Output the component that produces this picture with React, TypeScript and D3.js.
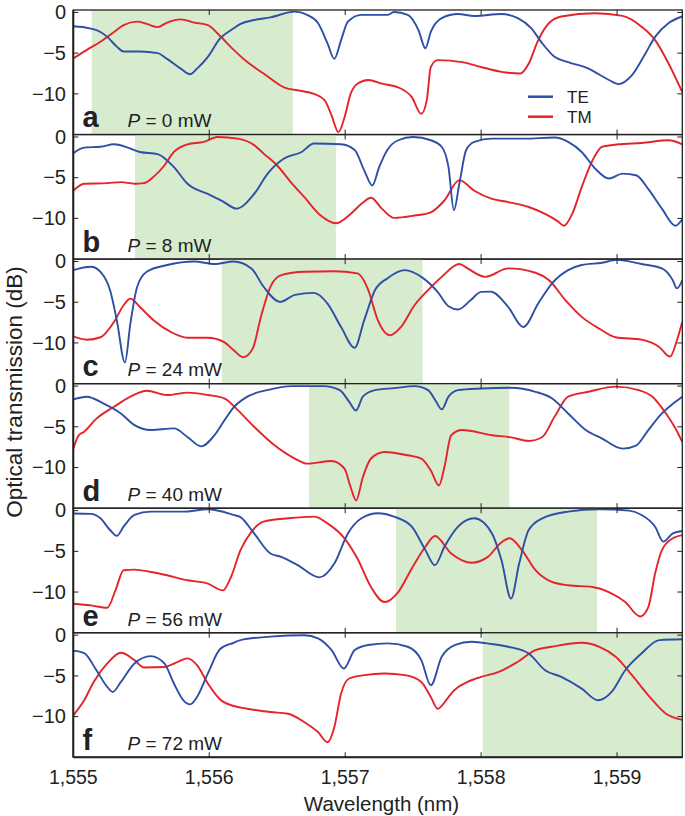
import React from "react";
import * as d3 from "d3";

type P = [number, number];

const panelLetters = ["a", "b", "c", "d", "e", "f"];
const powers = [0, 8, 24, 40, 56, 72];
const xTicks = [1555, 1556, 1557, 1558, 1559];
const xTickLabels = ["1,555", "1,556", "1,557", "1,558", "1,559"];
const yTicks = [0, -5, -10];
const yTickLabels = ["0", "\u22125", "\u221210"];
const windows: P[] = [
  [1555.135, 1556.615],
  [1555.454, 1556.932],
  [1556.092, 1557.569],
  [1556.735, 1558.207],
  [1557.373, 1558.853],
  [1558.011, 1559.5],
];

const teA: P[] = [[1555.0,-1.7],[1555.12,-1.95],[1555.2,-2.4],[1555.25,-3.0],[1555.32,-4.2],[1555.37,-4.8],[1555.49,-4.8],[1555.62,-5.0],[1555.69,-5.7],[1555.79,-6.9],[1555.86,-7.6],[1555.91,-6.9],[1555.99,-5.45],[1556.08,-3.2],[1556.18,-1.95],[1556.23,-1.4],[1556.33,-0.93],[1556.45,-0.6],[1556.63,0.1],[1556.72,-0.3],[1556.8,-1.3],[1556.87,-3.8],[1556.92,-5.7],[1556.97,-3.4],[1557.02,-1.13],[1557.12,-0.3],[1557.31,-0.3],[1557.36,0.05],[1557.46,-0.3],[1557.54,-2.2],[1557.59,-4.4],[1557.63,-2.4],[1557.71,-0.7],[1557.83,-0.2],[1557.95,-0.43],[1558.15,-0.2],[1558.27,-0.7],[1558.37,-1.95],[1558.45,-3.8],[1558.54,-5.45],[1558.64,-6.1],[1558.79,-6.9],[1558.94,-8.3],[1559.01,-8.8],[1559.11,-7.7],[1559.21,-5.0],[1559.28,-3.0],[1559.38,-1.3],[1559.48,-0.5]];
const tmA: P[] = [[1555.0,-5.65],[1555.1,-4.6],[1555.2,-3.6],[1555.3,-2.4],[1555.37,-1.55],[1555.47,-1.13],[1555.54,-1.4],[1555.62,-1.8],[1555.69,-1.25],[1555.79,-0.85],[1555.89,-1.25],[1555.99,-1.55],[1556.08,-2.9],[1556.18,-4.6],[1556.28,-6.1],[1556.4,-7.5],[1556.55,-9.2],[1556.68,-9.65],[1556.77,-10.0],[1556.85,-10.8],[1556.9,-12.65],[1556.95,-14.7],[1556.995,-12.9],[1557.04,-10.0],[1557.09,-8.75],[1557.17,-8.3],[1557.27,-8.75],[1557.39,-9.2],[1557.49,-10.4],[1557.56,-12.45],[1557.6,-10.8],[1557.63,-6.7],[1557.68,-5.86],[1557.86,-6.1],[1558.0,-6.7],[1558.15,-7.3],[1558.29,-7.5],[1558.35,-6.3],[1558.42,-3.4],[1558.5,-1.3],[1558.59,-0.5],[1558.84,-0.1],[1559.04,-0.43],[1559.18,-1.75],[1559.28,-3.4],[1559.38,-6.3],[1559.48,-9.8]];

const teB: P[] = [[1555.0,-2.0],[1555.08,-1.3],[1555.2,-1.2],[1555.3,-0.9],[1555.4,-1.3],[1555.49,-1.84],[1555.62,-2.1],[1555.74,-3.7],[1555.84,-5.74],[1555.99,-7.0],[1556.1,-7.9],[1556.2,-8.8],[1556.33,-7.0],[1556.43,-4.5],[1556.55,-2.65],[1556.68,-1.84],[1556.77,-0.8],[1556.97,-0.9],[1557.07,-1.6],[1557.14,-4.1],[1557.2,-5.95],[1557.25,-3.7],[1557.31,-1.6],[1557.39,-0.4],[1557.5,0],[1557.63,-0.4],[1557.71,-1.2],[1557.76,-3.7],[1557.8,-9.0],[1557.84,-5.74],[1557.89,-1.6],[1557.95,-0.6],[1558.08,-0.2],[1558.32,-0.2],[1558.54,-0.07],[1558.64,-0.6],[1558.74,-1.84],[1558.84,-3.9],[1558.94,-5.1],[1559.04,-4.5],[1559.14,-4.7],[1559.23,-6.4],[1559.33,-8.8],[1559.43,-10.9],[1559.48,-10.1]];
const tmB: P[] = [[1555.0,-6.6],[1555.08,-5.74],[1555.25,-5.67],[1555.35,-5.54],[1555.45,-5.74],[1555.52,-5.67],[1555.59,-4.9],[1555.67,-3.5],[1555.74,-1.84],[1555.84,-0.9],[1555.96,-0.6],[1556.06,0],[1556.21,-0.2],[1556.33,-1.0],[1556.4,-2.04],[1556.5,-3.5],[1556.6,-5.54],[1556.7,-7.4],[1556.82,-9.65],[1556.93,-10.6],[1557.04,-9.45],[1557.12,-8.2],[1557.19,-7.47],[1557.27,-8.8],[1557.36,-9.94],[1557.51,-9.65],[1557.63,-9.25],[1557.73,-7.8],[1557.84,-5.3],[1557.95,-6.6],[1558.08,-7.6],[1558.2,-8.0],[1558.35,-8.6],[1558.47,-9.45],[1558.56,-10.3],[1558.61,-10.9],[1558.67,-9.45],[1558.74,-6.16],[1558.82,-2.86],[1558.89,-1.2],[1559.01,-0.9],[1559.18,-0.73],[1559.38,-0.4],[1559.48,-0.9]];

const teC: P[] = [[1555.0,-1.05],[1555.13,-0.64],[1555.2,-1.26],[1555.27,-3.5],[1555.32,-7.2],[1555.38,-12.4],[1555.42,-7.6],[1555.47,-3.1],[1555.54,-1.26],[1555.69,-0.43],[1555.89,0],[1556.04,-0.3],[1556.18,0],[1556.31,-0.84],[1556.4,-3.1],[1556.52,-4.96],[1556.63,-4.1],[1556.77,-3.85],[1556.87,-5.16],[1556.97,-8.05],[1557.07,-10.6],[1557.14,-7.2],[1557.22,-3.5],[1557.31,-2.07],[1557.44,-1.05],[1557.56,-1.88],[1557.68,-3.73],[1557.76,-5.5],[1557.83,-5.9],[1557.92,-4.8],[1558.0,-3.73],[1558.07,-3.7],[1558.2,-5.6],[1558.31,-8.05],[1558.42,-5.16],[1558.52,-2.7],[1558.64,-1.05],[1558.74,-0.43],[1558.89,-0.15],[1559.0,0.2],[1559.18,-0.3],[1559.33,-0.84],[1559.41,-2.3],[1559.44,-3.3],[1559.48,-2.3]];
const tmC: P[] = [[1555.0,-9.2],[1555.1,-9.6],[1555.2,-9.3],[1555.3,-7.4],[1555.37,-5.37],[1555.42,-4.55],[1555.49,-5.58],[1555.59,-7.2],[1555.72,-8.67],[1555.84,-9.36],[1555.99,-9.36],[1556.11,-9.9],[1556.18,-10.9],[1556.25,-11.75],[1556.32,-10.7],[1556.38,-6.8],[1556.45,-3.1],[1556.53,-1.67],[1556.7,-1.26],[1556.92,-1.2],[1557.09,-1.46],[1557.17,-3.5],[1557.24,-7.2],[1557.33,-9.07],[1557.41,-8.05],[1557.51,-5.37],[1557.61,-3.5],[1557.71,-1.88],[1557.84,-0.3],[1557.9,-0.84],[1558.03,-1.88],[1558.2,-0.84],[1558.4,-1.38],[1558.5,-2.3],[1558.62,-4.75],[1558.74,-6.8],[1558.87,-8.25],[1558.99,-9.3],[1559.18,-9.6],[1559.31,-10.5],[1559.39,-11.67],[1559.44,-9.7],[1559.48,-7.4]];

const teD: P[] = [[1555.0,-1.63],[1555.1,-1.3],[1555.22,-2.12],[1555.35,-3.36],[1555.45,-4.8],[1555.57,-5.4],[1555.74,-5.2],[1555.84,-6.25],[1555.94,-7.4],[1556.04,-6.0],[1556.1,-4.5],[1556.18,-2.6],[1556.28,-1.3],[1556.45,-0.4],[1556.6,0],[1556.84,0],[1556.96,-0.5],[1557.03,-1.93],[1557.08,-3.0],[1557.13,-1.3],[1557.22,-0.5],[1557.36,-0.25],[1557.51,0],[1557.61,-0.5],[1557.67,-1.93],[1557.71,-2.86],[1557.76,-1.3],[1557.83,-0.5],[1558.0,-0.3],[1558.22,-0.2],[1558.4,-0.7],[1558.52,-1.5],[1558.64,-3.36],[1558.77,-5.4],[1558.89,-6.45],[1559.04,-7.68],[1559.14,-7.3],[1559.23,-5.4],[1559.33,-3.36],[1559.43,-1.93],[1559.48,-1.3]];
const tmD: P[] = [[1555.0,-7.7],[1555.04,-6.04],[1555.08,-5.6],[1555.17,-4.0],[1555.3,-2.54],[1555.42,-1.3],[1555.54,-0.57],[1555.69,-1.1],[1555.84,-0.8],[1555.99,-1.1],[1556.11,-1.5],[1556.21,-2.95],[1556.33,-5.0],[1556.48,-7.27],[1556.63,-8.9],[1556.72,-9.53],[1556.9,-9.2],[1556.995,-10.15],[1557.04,-12.4],[1557.08,-14.06],[1557.13,-11.2],[1557.19,-8.9],[1557.29,-8.1],[1557.46,-8.5],[1557.56,-8.9],[1557.63,-10.36],[1557.69,-12.2],[1557.73,-9.95],[1557.78,-6.04],[1557.86,-5.4],[1558.08,-6.04],[1558.22,-6.3],[1558.35,-6.74],[1558.45,-6.25],[1558.54,-3.78],[1558.64,-1.3],[1558.79,-0.7],[1558.99,-0.07],[1559.16,-0.5],[1559.26,-1.3],[1559.36,-3.36],[1559.43,-5.2],[1559.48,-6.86]];

const teE: P[] = [[1555.0,-0.35],[1555.13,-0.4],[1555.2,-0.94],[1555.27,-2.38],[1555.32,-3.1],[1555.37,-1.97],[1555.45,-0.53],[1555.57,-0.12],[1555.81,-0.12],[1555.99,0.17],[1556.18,-0.53],[1556.23,-0.8],[1556.33,-2.8],[1556.45,-5.26],[1556.53,-5.68],[1556.65,-6.7],[1556.81,-8.2],[1556.92,-6.5],[1557.02,-2.8],[1557.12,-0.94],[1557.24,-0.32],[1557.36,-0.74],[1557.49,-1.97],[1557.59,-4.85],[1557.66,-6.7],[1557.73,-4.44],[1557.83,-1.97],[1557.95,-0.94],[1558.08,-2.8],[1558.15,-6.1],[1558.22,-10.8],[1558.28,-6.5],[1558.35,-2.38],[1558.45,-0.94],[1558.64,-0.12],[1558.87,0.17],[1559.09,0],[1559.18,-0.53],[1559.28,-1.97],[1559.34,-3.8],[1559.41,-2.8],[1559.48,-2.5]];
const tmE: P[] = [[1555.0,-11.43],[1555.13,-11.64],[1555.25,-11.93],[1555.31,-9.8],[1555.37,-7.32],[1555.45,-7.24],[1555.57,-7.53],[1555.69,-7.94],[1555.84,-8.55],[1555.99,-8.96],[1556.1,-9.8],[1556.16,-8.15],[1556.23,-4.85],[1556.31,-2.6],[1556.4,-1.35],[1556.58,-0.94],[1556.77,-0.74],[1556.87,-1.56],[1556.995,-3.4],[1557.09,-5.88],[1557.19,-9.38],[1557.29,-11.23],[1557.39,-10.0],[1557.49,-7.1],[1557.59,-4.44],[1557.66,-3.12],[1557.78,-5.26],[1557.86,-6.1],[1557.93,-6.4],[1558.05,-5.68],[1558.14,-4.03],[1558.21,-3.4],[1558.3,-4.85],[1558.4,-7.32],[1558.52,-8.76],[1558.64,-9.17],[1558.82,-9.38],[1558.94,-10.0],[1559.06,-11.23],[1559.17,-13.0],[1559.23,-11.85],[1559.28,-7.73],[1559.33,-4.85],[1559.41,-3.4],[1559.48,-3.0]];

const teF: P[] = [[1555.0,-1.9],[1555.08,-2.2],[1555.17,-4.3],[1555.25,-6.36],[1555.29,-6.97],[1555.35,-5.74],[1555.45,-3.47],[1555.57,-2.57],[1555.67,-3.47],[1555.74,-5.94],[1555.81,-8.0],[1555.86,-8.5],[1555.91,-7.6],[1555.99,-4.7],[1556.08,-1.7],[1556.18,-0.93],[1556.23,-0.6],[1556.45,-0.18],[1556.7,0],[1556.8,-0.38],[1556.9,-1.83],[1556.99,-4.1],[1557.07,-1.83],[1557.17,-1.2],[1557.31,-1.0],[1557.46,-1.42],[1557.56,-3.06],[1557.63,-6.15],[1557.71,-2.65],[1557.81,-1.2],[1557.93,-0.8],[1558.08,-1.09],[1558.2,-1.42],[1558.35,-2.24],[1558.47,-4.3],[1558.59,-5.12],[1558.74,-6.56],[1558.86,-8.0],[1558.96,-6.97],[1559.06,-4.3],[1559.18,-2.24],[1559.31,-0.6],[1559.48,-0.5]];
const tmF: P[] = [[1555.0,-9.85],[1555.08,-8.0],[1555.15,-5.74],[1555.25,-3.47],[1555.35,-2.16],[1555.45,-3.06],[1555.52,-3.96],[1555.67,-3.9],[1555.77,-3.27],[1555.84,-2.85],[1555.91,-3.68],[1555.99,-5.94],[1556.08,-7.9],[1556.18,-8.7],[1556.28,-9.03],[1556.45,-9.44],[1556.58,-9.65],[1556.7,-10.68],[1556.8,-11.9],[1556.87,-13.15],[1556.92,-11.3],[1556.97,-7.17],[1557.03,-5.32],[1557.14,-4.91],[1557.29,-4.7],[1557.44,-4.91],[1557.56,-5.74],[1557.63,-7.6],[1557.68,-9.03],[1557.76,-7.6],[1557.8,-6.8],[1557.9,-5.74],[1558.0,-5.12],[1558.13,-4.5],[1558.25,-3.47],[1558.4,-1.83],[1558.52,-1.42],[1558.74,-0.93],[1558.87,-1.42],[1558.99,-2.65],[1559.11,-4.91],[1559.23,-7.38],[1559.36,-9.65],[1559.48,-10.4]];

const teSeries = [teA, teB, teC, teD, teE, teF];
const tmSeries = [tmA, tmB, tmC, tmD, tmE, tmF];

const W = 685;
const H = 816;
const LEFT = 73.3;
const RIGHT = 682.3;
const TOP = 10;
const PANEL_H = 124.55;
const BLUE = "#2F4EA6";
const RED = "#E5232B";
const GREEN = "#D7EBCF";
const FONT = "'Liberation Sans', Arial, Helvetica, sans-serif";

export default function App() {
  const x = d3.scaleLinear().domain([1555, 1559.48]).range([LEFT, RIGHT]);
  const bottom = TOP + PANEL_H * 6;
  return (
    <svg
      width={W}
      height={H}
      style={{ position: "absolute", left: 0, top: 0, background: "#fff" }}
      fontFamily={FONT}
    >
      <defs>
        <clipPath id="plotclip">
          <rect x={LEFT} y={TOP} width={RIGHT - LEFT} height={bottom - TOP} />
        </clipPath>
      </defs>
      {panelLetters.map((letter, i) => {
        const top = TOP + i * PANEL_H;
        const y = d3.scaleLinear().domain([-15, 0.3]).range([top + PANEL_H, top]);
        const line = d3
          .line<P>()
          .x((d) => x(d[0]))
          .y((d) => y(d[1]))
          .curve(d3.curveMonotoneX);
        const win = windows[i];
        return (
          <g key={letter}>
            <rect
              x={x(win[0])}
              y={top}
              width={Math.min(x(win[1]), RIGHT) - x(win[0])}
              height={PANEL_H}
              fill={GREEN}
            />
            <g clipPath="url(#plotclip)">
              <path d={line(tmSeries[i]) || ""} fill="none" stroke={RED} strokeWidth={1.9} strokeLinejoin="round" />
              <path d={line(teSeries[i]) || ""} fill="none" stroke={BLUE} strokeWidth={1.9} strokeLinejoin="round" />
            </g>
            <rect x={LEFT} y={top} width={RIGHT - LEFT} height={PANEL_H} fill="none" stroke="#222" strokeWidth={1.3} />
            {xTicks.slice(1).map((t) => (
              <g key={t}>
                <line x1={x(t)} x2={x(t)} y1={top} y2={top + 5} stroke="#222" strokeWidth={1} />
                <line x1={x(t)} x2={x(t)} y1={top + PANEL_H - 5} y2={top + PANEL_H} stroke="#222" strokeWidth={1} />
              </g>
            ))}
            {yTicks.map((t, k) => (
              <g key={t}>
                <line x1={LEFT} x2={LEFT + 5} y1={y(t)} y2={y(t)} stroke="#222" strokeWidth={1} />
                <line x1={RIGHT - 5} x2={RIGHT} y1={y(t)} y2={y(t)} stroke="#222" strokeWidth={1} />
                <text
                  x={66}
                  y={y(t) + 6.8}
                  textAnchor="end"
                  fontSize={20}
                  fill="#222"
                >
                  {yTickLabels[k]}
                </text>
              </g>
            ))}
            <text x={82.5} y={top + 117.3} fontSize={29} fontWeight="bold" fill="#222">
              {letter}
            </text>
            <text x={127.5} y={top + 117.3} fontSize={19} fill="#222">
              <tspan fontStyle="italic">P</tspan>
              <tspan> = {powers[i]} mW</tspan>
            </text>
          </g>
        );
      })}
      <line x1={LEFT} x2={LEFT} y1={TOP} y2={bottom} stroke="#222" strokeWidth={2} />
      <line x1={LEFT} x2={RIGHT} y1={bottom} y2={bottom} stroke="#222" strokeWidth={2} />
      {xTicks.map((t, k) => (
        <text key={t} x={x(t)} y={784} textAnchor="middle" fontSize={19.5} fill="#222">
          {xTickLabels[k]}
        </text>
      ))}
      <text x={381.5} y={811} textAnchor="middle" fontSize={20.5} fill="#222">
        Wavelength (nm)
      </text>
      <text
        transform={`translate(21.5, 392) rotate(-90)`}
        textAnchor="middle"
        fontSize={22.5}
        fill="#222"
      >
        Optical transmission (dB)
      </text>
      <g>
        <line x1={528} x2={553} y1={96.7} y2={96.7} stroke={BLUE} strokeWidth={2.5} />
        <text x={567} y={103} fontSize={17} fill="#222">TE</text>
        <line x1={528} x2={553} y1={116.7} y2={116.7} stroke={RED} strokeWidth={2.5} />
        <text x={567} y={123} fontSize={17} fill="#222">TM</text>
      </g>
    </svg>
  );
}
